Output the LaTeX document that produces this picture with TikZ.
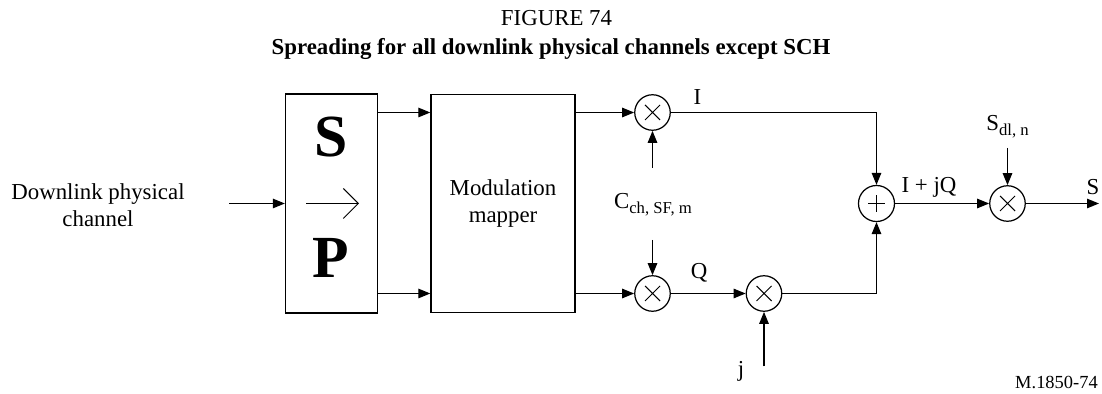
\documentclass[tikz,border=0pt]{standalone}
\usepackage{fontspec}
\setmainfont{Liberation Serif}
\usetikzlibrary{arrows.meta}

\newcommand{\lowsub}[1]{\raisebox{-0.45ex}{\fontsize{9.5}{10}\selectfont #1}}

\tikzset{
  sig/.style={line width=0.7pt,-{Triangle[length=0.24cm,width=0.19cm]}},
  blockbox/.style={draw,line width=0.75pt,inner sep=0pt},
  mixer/.style={circle,draw,line width=0.7pt,minimum size=0.71cm,inner sep=0pt,
    path picture={\draw[line width=0.6pt,shift={(path picture bounding box.center)}]
      (-0.15,-0.15) -- (0.15,0.15) (-0.15,0.15) -- (0.15,-0.15);}},
  summer/.style={circle,draw,line width=0.7pt,minimum size=0.72cm,inner sep=0pt,
    path picture={\draw[line width=0.6pt,shift={(path picture bounding box.center)}]
      (-0.17,0) -- (0.17,0) (0,-0.17) -- (0,0.17);}}
}

\begin{document}
\begin{tikzpicture}[font=\fontsize{13}{15.5}\selectfont,x=1cm,y=1cm]
    \useasboundingbox (0,0) rectangle (22.04,7.88);

    % Titel oben
    \node (fig) at (11.13,7.52) {FIGURE 74};
    \node[font=\fontsize{13}{15.5}\selectfont\bfseries] (ttl) at (11.02,6.90)
        {Spreading for all downlink physical channels except SCH};

    % Eingang und S/P-Wandler
    \node[align=center] (src) at (1.96,3.78) {Downlink physical\\channel};
    \coordinate (in) at (4.58,3.81);
    \node[blockbox,minimum width=1.84cm,minimum height=4.38cm] (sp) at (6.63,3.81) {};
    \node[font=\fontsize{34}{34}\selectfont\bfseries] (sl) at (6.62,5.13) {S};
    \node[font=\fontsize{34}{34}\selectfont\bfseries] (pl) at (6.62,2.73) {P};
    \coordinate (ta) at (6.12,3.81);
    \coordinate (tb) at (7.18,3.81);
    \draw[line width=0.6pt,-{Straight Barb[length=0.3cm,width=0.6cm,line width=0.6pt]}]
        (ta) -- (tb);

    \node[blockbox,minimum width=2.88cm,minimum height=4.36cm,align=center] (mod)
        at (10.06,3.81) {Modulation\\mapper};

    % Spreizung I- und Q-Zweig
    \node[mixer] (mi) at (13.05,5.63) {};
    \node[mixer] (mq) at (13.05,2.01) {};
    \node[mixer] (mj) at (15.28,2.01) {};
    \node[summer] (add) at (17.53,3.81) {};
    \node[mixer] (mo) at (20.15,3.81) {};

    \node (cc) at (13.06,3.78) {C\lowsub{ch, SF, m}};
    \coordinate (cup) at (13.05,4.52);
    \coordinate (cdn) at (13.05,3.08);
    \node (il) at (13.95,5.94) {I};
    \node (ql) at (13.98,2.42) {Q};
    \node (jl) at (14.82,0.46) {j};
    \coordinate (jin) at (15.28,0.55);
    \node (iq) at (18.58,4.13) {I + jQ};
    \node (sd) at (20.15,5.35) {S\lowsub{dl, n}};
    \coordinate (sin) at (20.15,4.92);
    \coordinate (out) at (21.98,3.81);
    \node (so) at (21.86,4.13) {S};

    \draw[sig] (in) -- (sp);
    \draw[sig] (sp.east |- mi) -- (mod.west |- mi);
    \draw[sig] (sp.east |- mq) -- (mod.west |- mq);
    \draw[sig] (mod.east |- mi) -- (mi);
    \draw[sig] (mod.east |- mq) -- (mq);
    \draw[sig] (cup) -- (mi);
    \draw[sig] (cdn) -- (mq);
    \draw[sig] (mq) -- (mj);
    \draw[sig] (jin) -- (mj);
    \draw[sig] (mi) -| (add);
    \draw[sig] (mj) -| (add);
    \draw[sig] (add) -- (mo);
    \draw[sig] (sin) -- (mo);
    \draw[sig] (mo) -- (out);

    \node[font=\fontsize{10.5}{12}\selectfont] (ref) at (21.13,0.24) {M.1850-74};
\end{tikzpicture}
\end{document}
